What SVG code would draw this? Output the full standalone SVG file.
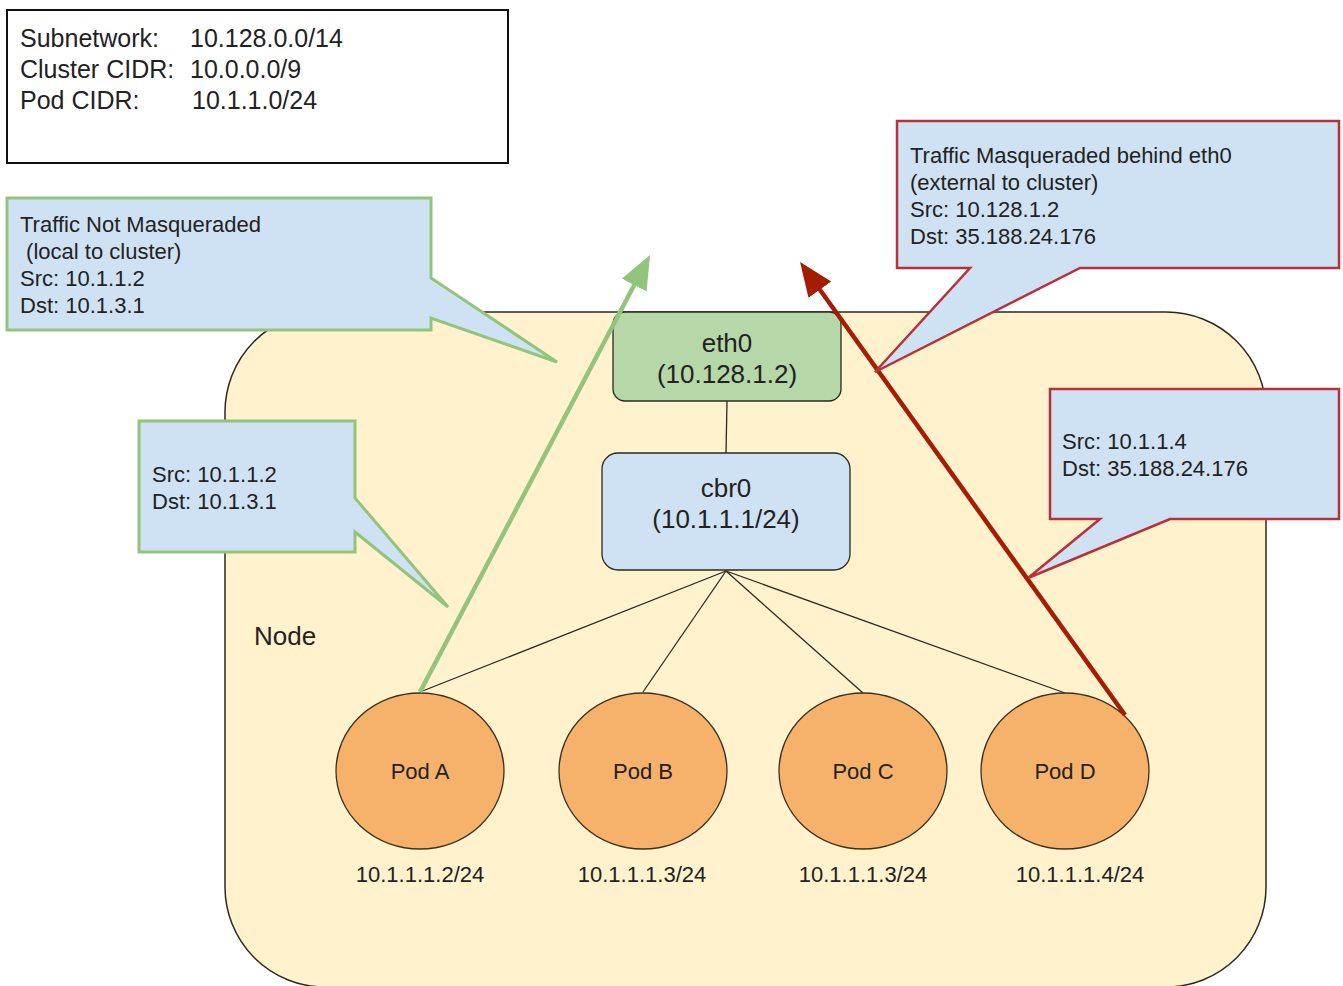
<svg xmlns="http://www.w3.org/2000/svg" width="1343" height="986" viewBox="0 0 1343 986">
<style>
text{font-family:"Liberation Sans",Arial,sans-serif;fill:#222}
.info{font-size:25px}
.cl{font-size:22px}
.big{font-size:26px;text-anchor:middle}
.pod{fill:#f6b26b;stroke:#3a3020;stroke-width:1.3}
.podt{font-size:22px;text-anchor:middle}
.ip{font-size:22px;text-anchor:middle}
.wire{stroke:#2a2a20;stroke-width:1.3;fill:none}
.cg{fill:#cfe2f3;stroke:#93c47d;stroke-width:3;stroke-linejoin:miter}
.cr{fill:#cfe2f3;stroke:#b7303a;stroke-width:2.5;stroke-linejoin:miter}
</style>
<defs>
<marker id="ag" markerUnits="userSpaceOnUse" markerWidth="36" markerHeight="30" refX="14" refY="14" orient="auto"><path d="M0,0 L34,14 L0,28 z" fill="#93c47d"/></marker>
<marker id="ar" markerUnits="userSpaceOnUse" markerWidth="36" markerHeight="30" refX="14" refY="14" orient="auto"><path d="M0,0 L34,14 L0,28 z" fill="#a61c00"/></marker>
</defs>
<rect width="1343" height="986" fill="#ffffff"/>
<g id="info">
<rect x="7" y="10" width="501" height="153" fill="#ffffff" stroke="#111" stroke-width="2"/>
<text class="info" x="20" y="47">Subnetwork:</text><text class="info" x="190" y="47">10.128.0.0/14</text>
<text class="info" x="20" y="78">Cluster CIDR:</text><text class="info" x="190" y="78">10.0.0.0/9</text>
<text class="info" x="20" y="109">Pod CIDR:</text><text class="info" x="192" y="109">10.1.1.0/24</text>
</g>
<g id="node">
<rect x="225" y="312" width="1041" height="675" rx="100" ry="100" fill="#fff2cc" stroke="#2a2a20" stroke-width="1.5"/>
<text x="254" y="645" style="font-size:26px">Node</text>
</g>
<g id="connectors">
<line class="wire" x1="727" y1="401" x2="726" y2="453"/>
<line class="wire" x1="726" y1="571" x2="420" y2="692"/>
<line class="wire" x1="726" y1="571" x2="643" y2="692"/>
<line class="wire" x1="726" y1="571" x2="863" y2="693"/>
<line class="wire" x1="726" y1="571" x2="1065" y2="693"/>
</g>
<g id="eth0">
<rect x="613" y="312" width="228" height="89" rx="12" fill="#b6d7a8" stroke="#2a2a20" stroke-width="1.3"/>
<text class="big" x="727" y="352">eth0</text>
<text class="big" x="727" y="383">(10.128.1.2)</text>
</g>
<g id="cbr0">
<rect x="602" y="453" width="248" height="117" rx="16" fill="#cfe2f3" stroke="#2a2a20" stroke-width="1.3"/>
<text class="big" x="726" y="497">cbr0</text>
<text class="big" x="726" y="528">(10.1.1.1/24)</text>
</g>
<g id="podA"><ellipse class="pod" cx="420" cy="771" rx="84" ry="78"/><text class="podt" x="420" y="779">Pod A</text><text class="ip" x="420" y="882">10.1.1.1.2/24</text></g>
<g id="podB"><ellipse class="pod" cx="643" cy="771" rx="84" ry="78"/><text class="podt" x="643" y="779">Pod B</text><text class="ip" x="642" y="882">10.1.1.1.3/24</text></g>
<g id="podC"><ellipse class="pod" cx="863" cy="771" rx="84" ry="78"/><text class="podt" x="863" y="779">Pod C</text><text class="ip" x="863" y="882">10.1.1.1.3/24</text></g>
<g id="podD"><ellipse class="pod" cx="1065" cy="771" rx="84" ry="78"/><text class="podt" x="1065" y="779">Pod D</text><text class="ip" x="1080" y="882">10.1.1.1.4/24</text></g>
<g id="flows">
<line x1="420" y1="692" x2="640.7" y2="272.7" stroke="#93c47d" stroke-width="4.5" marker-end="url(#ag)"/>
<line x1="1125" y1="715" x2="811.7" y2="278.3" stroke="#a61c00" stroke-width="4.5" marker-end="url(#ar)"/>
</g>
<g id="callout-not-masq">
<path class="cg" d="M7,198 H431 V278 L557,362 L431,318 V330 H7 Z"/>
<text class="cl" x="20" y="232">Traffic Not Masqueraded</text>
<text class="cl" x="20" y="259">&#160;(local to cluster)</text>
<text class="cl" x="20" y="286">Src: 10.1.1.2</text>
<text class="cl" x="20" y="313">Dst: 10.1.3.1</text>
</g>
<g id="callout-podA">
<path class="cg" d="M139,421 H355 V498 L448,607 L355,532 V552 H139 Z"/>
<text class="cl" x="152" y="482">Src: 10.1.1.2</text>
<text class="cl" x="152" y="509">Dst: 10.1.3.1</text>
</g>
<g id="callout-masq">
<path class="cr" d="M897,121 H1339 V268 H1080 L875,372 L970,268 H897 Z"/>
<text class="cl" x="910" y="163">Traffic Masqueraded behind eth0</text>
<text class="cl" x="910" y="190">(external to cluster)</text>
<text class="cl" x="910" y="217">Src: 10.128.1.2</text>
<text class="cl" x="910" y="244">Dst: 35.188.24.176</text>
</g>
<g id="callout-podD">
<path class="cr" d="M1050,389 H1339 V519 H1170 L1028,578 L1100,519 H1050 Z"/>
<text class="cl" x="1062" y="449">Src: 10.1.1.4</text>
<text class="cl" x="1062" y="476">Dst: 35.188.24.176</text>
</g>
</svg>
